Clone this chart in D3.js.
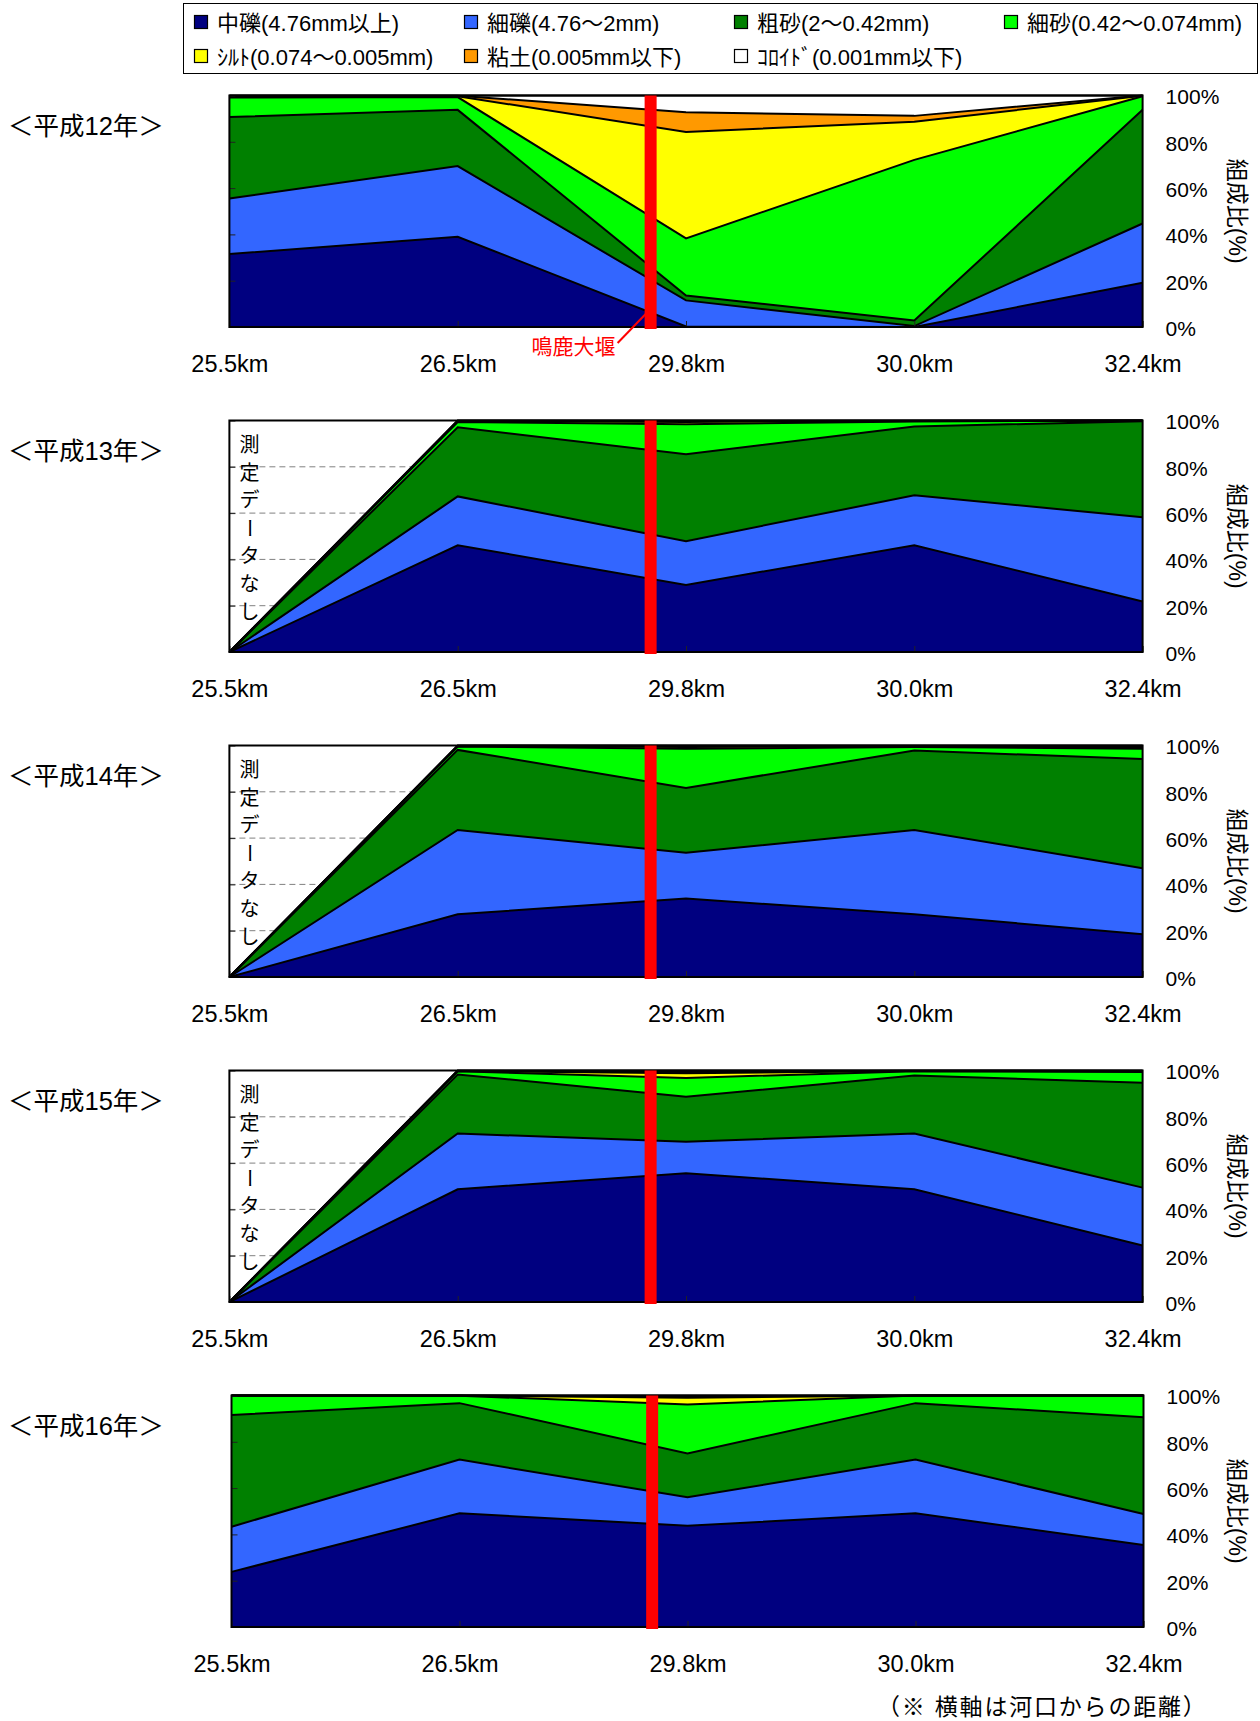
<!DOCTYPE html>
<html><head><meta charset="utf-8">
<script src="https://cdn.jsdelivr.net/npm/d3@7"></script>
<style>
body{margin:0;background:#fff}
svg{display:block}
text{font-family:"Liberation Sans","Noto Sans CJK JP",sans-serif;fill:#000}
</style>
</head><body>
<script>
// ---------- data ----------
const categories = ["25.5km","26.5km","29.8km","30.0km","32.4km"];
const seriesNames = ["中礫(4.76mm以上)","細礫(4.76～2mm)","粗砂(2～0.42mm)","細砂(0.42～0.074mm)","ｼﾙﾄ(0.074～0.005mm)","粘土(0.005mm以下)","ｺﾛｲﾄﾞ(0.001mm以下)"];
const yearLabels = ["＜平成12年＞","＜平成13年＞","＜平成14年＞","＜平成15年＞","＜平成16年＞"];
const yTicks = [0,20,40,60,80,100];
// rows = series (中礫, 細礫, 粗砂, 細砂, ｼﾙﾄ, 粘土, ｺﾛｲﾄﾞ), columns = categories
const h12 = [
  [31.5, 39.0,  0.2,  0.0, 19.1],
  [24.0, 30.5, 11.3,  0.4, 25.6],
  [35.2, 24.3,  2.1,  2.4, 49.1],
  [ 8.4,  5.5, 24.7, 69.4,  5.9],
  [ 0.5,  0.4, 45.9, 16.5,  0.2],
  [ 0.3,  0.2,  8.6,  2.5,  0.1],
  [ 0.1,  0.1,  7.2,  8.8,  0.0]
];
const h13 = [
  [0, 46.1, 29.0, 46.1, 21.8],
  [0, 21.1, 18.9, 21.6, 36.4],
  [0, 29.9, 37.5, 29.7, 41.5],
  [0,  2.2, 13.0,  2.2,  0.2],
  [0,  0.4,  1.0,  0.2,  0.05],
  [0,  0.2,  0.4,  0.1,  0.05],
  [0,  0.1,  0.2,  0.1,  0.0]
];
const h14 = [
  [0, 27.1, 33.9, 27.1, 18.5],
  [0, 36.4, 19.8, 36.4, 28.5],
  [0, 34.6, 28.0, 34.3, 47.2],
  [0,  1.5, 16.9,  1.5,  4.4],
  [0,  0.2,  0.8,  0.3,  0.6],
  [0,  0.1,  0.4,  0.2,  0.4],
  [0,  0.1,  0.2,  0.2,  0.4]
];
const h15 = [
  [0, 48.7, 55.6, 48.7, 24.4],
  [0, 24.1, 13.6, 24.1, 25.0],
  [0, 25.5, 19.5, 25.0, 45.3],
  [0,  1.4,  8.1,  1.9,  4.6],
  [0,  0.1,  2.0,  0.1,  0.3],
  [0,  0.1,  0.6,  0.1,  0.2],
  [0,  0.1,  0.6,  0.1,  0.2]
];
const h16 = [
  [23.8, 49.1, 43.7, 49.1, 35.4],
  [19.5, 23.2, 12.3, 23.2, 13.4],
  [48.3, 24.4, 19.0, 24.4, 41.8],
  [ 8.4,  3.2, 21.1,  3.3,  9.4],
  [ 0.0,  0.1,  2.9,  0.0,  0.0],
  [ 0.0,  0.0,  0.6,  0.0,  0.0],
  [ 0.0,  0.0,  0.4,  0.0,  0.0]
];
const yearData = [h12, h13, h14, h15, h16];
const noDataFlags = [false, true, true, true, false];
const weirIndex = 1.845;          // position of the weir between 26.5km and 29.8km
const weirLabel = "鳴鹿大堰";
const noDataLabel = "測定データなし";
const axisTitle = "組成比(%)";
const footnote = "（※ 横軸は河口からの距離）";

// ---------- styles ----------
const colors = ["#000080","#3366FF","#008000","#00FF00","#FFFF00","#FF9900","#FFFFFF"];

// ---------- layout ----------
const W = 1260, H = 1721;
const svg = d3.select("body").append("svg").attr("width", W).attr("height", H);

const plotH = 231.5;
const panelTop0 = 95.5, panelStep = 325;

// legend
const lg = svg.append("g");
lg.append("rect").attr("x",183.5).attr("y",3.5).attr("width",1074).attr("height",70)
  .attr("fill","#fff").attr("stroke","#000").attr("stroke-width",1);
seriesNames.forEach((name,k)=>{
  const col = k<4 ? k : k-4, row = k<4 ? 0 : 1;
  const gx = 194 + col*270, gy = row===0 ? 22 : 56;
  lg.append("rect").attr("x",gx+0.5).attr("y",gy-6.5).attr("width",13).attr("height",13)
    .attr("fill",colors[k]).attr("stroke","#000").attr("stroke-width",1.2);
  lg.append("text").attr("x",gx+23).attr("y",gy+1).attr("dy","0.36em")
    .attr("font-size",22).text(name);
});

yearData.forEach((data,p)=>{
  const top = panelTop0 + p*panelStep;
  const x0 = p===4 ? 231.5 : 229.4;
  const x1 = p===4 ? 1143.5 : 1142.6;
  const plotW = x1 - x0;
  const g = svg.append("g").attr("transform",`translate(${x0},${top})`);
  const x = d3.scaleLinear().domain([0, categories.length-1]).range([0, plotW]);
  const y = d3.scaleLinear().domain([0,100]).range([plotH,0]);

  // year label
  svg.append("text").attr("x",8).attr("y",top+30).attr("dy","0.36em")
    .attr("font-size",25.5).text(yearLabels[p]);

  // dashed grid
  g.append("g").selectAll("line").data(yTicks.filter(t=>t>0 && t<100)).join("line")
    .attr("x1",0).attr("x2",plotW).attr("y1",d=>y(d)).attr("y2",d=>y(d))
    .attr("stroke","#808080").attr("stroke-width",1).attr("stroke-dasharray","6,4");

  // no data text
  if (noDataFlags[p]) {
    const chars = Array.from(noDataLabel);
    chars.forEach((c,i)=>{
      const cy = 24 + i*27.8;
      const t = g.append("text").attr("x",20).attr("y",cy).attr("dy","0.36em")
        .attr("text-anchor","middle").attr("font-size",20).text(c);
      if (c === "ー") t.attr("transform",`rotate(90,20,${cy})`);
    });
  }

  // stacked areas
  const idx = d3.range(categories.length);
  const stack = d3.stack().keys(d3.range(data.length)).value((i,k)=>data[k][i]);
  const layers = stack(idx);
  const area = d3.area().x((d,i)=>x(i)).y0(d=>y(d[0])).y1(d=>y(d[1]));
  const line = d3.line().x((d,i)=>x(i)).y(d=>y(d[1]));
  g.append("g").selectAll("path").data(layers).join("path")
    .attr("d",area).attr("fill",(d,k)=>colors[k]).attr("stroke","none");
  g.append("g").selectAll("path").data(layers).join("path")
    .attr("d",line).attr("fill","none").attr("stroke","#000").attr("stroke-width",2);

  // left ticks (inward)
  const la = g.append("g").call(d3.axisLeft(y).tickValues(yTicks).tickSize(-6).tickFormat(""));
  la.select(".domain").remove();
  la.selectAll("line").attr("stroke","#222").attr("stroke-width",1);

  // bottom ticks (inward) + labels
  const ba = g.append("g").attr("transform",`translate(0,${plotH})`)
    .call(d3.axisBottom(x).tickValues(idx).tickSize(-6).tickPadding(28).tickFormat(i=>categories[i]));
  ba.select(".domain").remove();
  ba.selectAll("line").attr("stroke","#222").attr("stroke-width",1);
  ba.selectAll("text").attr("font-size",23.5).attr("font-family",null).attr("fill","#000");

  // right labels
  const ra = g.append("g").attr("transform",`translate(${plotW},0)`)
    .call(d3.axisRight(y).tickValues(yTicks).tickSize(0).tickPadding(23).tickFormat(d=>d+"%"));
  ra.select(".domain").remove();
  ra.selectAll("text").attr("font-size",21).attr("font-family",null).attr("fill","#000")
    .attr("dy","0.4em");

  // border
  g.append("rect").attr("x",0).attr("y",0).attr("width",plotW).attr("height",plotH)
    .attr("fill","none").attr("stroke","#000").attr("stroke-width",2);

  // weir bar
  const wx = x(weirIndex);
  g.append("rect").attr("x",wx-6).attr("y",0).attr("width",12).attr("height",plotH+2)
    .attr("fill","#FF0000");

  // axis title
  svg.append("text").attr("transform",`translate(1237,${top+plotH/2}) rotate(90)`)
    .attr("text-anchor","middle").attr("dy","0.36em").attr("font-size",23).text(axisTitle);

  if (p===0) {
    g.append("line").attr("x1",wx-33).attr("y1",plotH+16).attr("x2",wx-4).attr("y2",plotH-14)
      .attr("stroke","#FF0000").attr("stroke-width",2);
    g.append("text").attr("x",wx-35).attr("y",plotH+19).attr("dy","0.36em")
      .attr("text-anchor","end").attr("font-size",21).style("fill","#FF0000").text(weirLabel);
  }
});

svg.append("text").attr("x",877).attr("y",1707).attr("dy","0.36em")
  .attr("font-size",23).attr("letter-spacing",1.8).text(footnote);
</script>
</body></html>
